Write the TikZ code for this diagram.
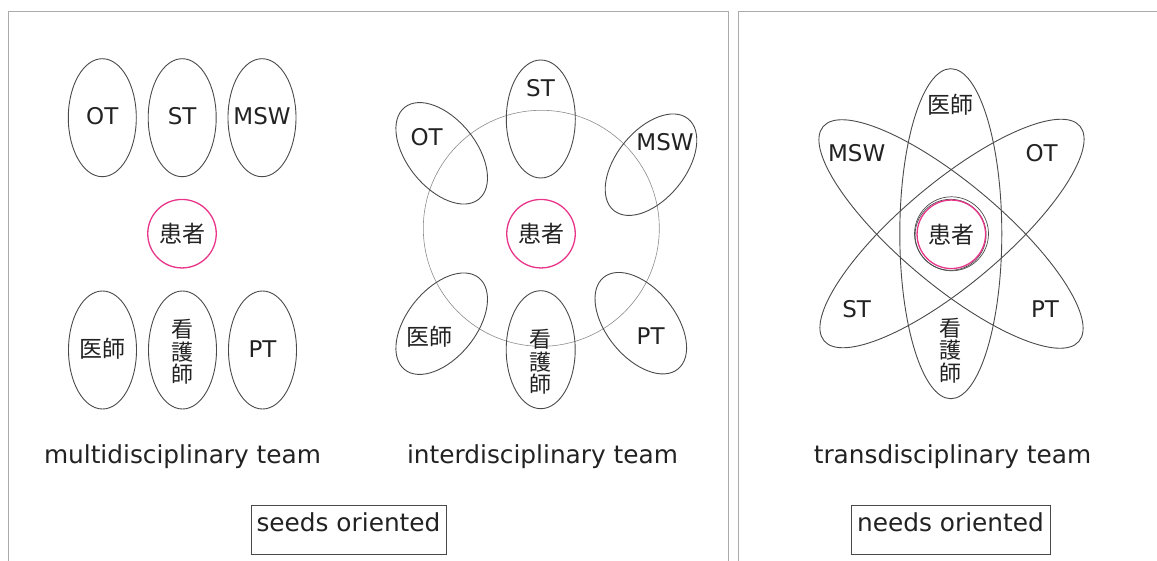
\documentclass[tikz,border=0pt]{standalone}
\usepackage{fontspec}
\setmainfont{DejaVu Sans}
\newfontfamily\jpfont{Noto Sans CJK JP}
\usetikzlibrary{shapes.geometric}
\definecolor{frame}{HTML}{ABABAB}
\definecolor{ring}{HTML}{4A4A4A}
\definecolor{pink}{HTML}{E8358A}
\definecolor{ink}{HTML}{222222}
\tikzset{
  oval/.style={ellipse, draw=ring, line width=0.9pt, inner sep=0pt},
  vov/.style={oval, minimum width=68pt, minimum height=118pt},
  tov/.style={oval, minimum width=69pt, minimum height=118pt},
  bigov/.style={oval, minimum width=102pt, minimum height=330pt},
  patient/.style={circle, draw=pink, line width=1.3pt, minimum size=68.5pt, inner sep=0pt, text=ink, font=\jpfont\fontsize{23}{23}\selectfont},
  lab/.style={text=ink, inner sep=0pt, font=\fontsize{23}{23}\selectfont},
  jlab/.style={text=ink, inner sep=0pt, font=\jpfont\fontsize{23}{23}\selectfont},
  vlab/.style={text=ink, inner sep=0pt, align=center, font=\jpfont\fontsize{22}{22.5}\selectfont},
  team/.style={text=ink, inner sep=0pt, font=\fontsize{24.8}{26}\selectfont},
  tagbox/.style={draw=ring, line width=0.9pt, minimum width=195.5pt, minimum height=49pt, inner sep=0pt},
  panel/.style={draw=frame, line width=1.5pt},
}
\begin{document}
\begin{tikzpicture}[x=1pt,y=-1pt]
\useasboundingbox (0,0) rectangle (1157,561);
% panels
\draw[panel] (8.5,575) -- (8.5,11.5) -- (728.5,11.5) -- (728.5,575);
\draw[panel] (738.7,575) -- (738.7,11.5) -- (1170,11.5);

% ---------- multidisciplinary ----------
\node[vov] (mOT) at (102.3,117.7) {};
\node[lab] (mOTl) at (102.3,116.5) {OT};
\node[vov] (mST) at (182.2,117.7) {};
\node[lab] (mSTl) at (182.2,116.5) {ST};
\node[vov] (mMSW) at (262,117.7) {};
\node[lab] (mMSWl) at (262,116.5) {MSW};
\node[patient] (mPat) at (182,233.7) {患者};
\node[vov] (mDr) at (102.5,350) {};
\node[jlab] (mDrl) at (102.5,349) {医師};
\node[vov] (mNs) at (182.5,350) {};
\node[vlab] (mNsl) at (182.5,352) {看\\護\\師};
\node[vov] (mPT) at (262.5,350) {};
\node[lab] (mPTl) at (262.5,349) {PT};
\node[team] (mTeam) at (182.5,457) {multidisciplinary team};

% ---------- interdisciplinary ----------
\node[circle, draw=black!45, line width=0.6pt, minimum size=236pt, inner sep=0pt] (iBig) at (541.3,228.3) {};
\node[tov] (iST) at (540.8,119) {};
\node[lab] (iSTl) at (540.5,88) {ST};
\node[tov, rotate=39] (iOT) at (441.7,153.3) {};
\node[lab] (iOTl) at (426.7,136.7) {OT};
\node[tov, rotate=-39] (iMSW) at (651,164.7) {};
\node[lab] (iMSWl) at (665,141.7) {MSW};
\node[tov, rotate=-39] (iDr) at (441.7,323.7) {};
\node[jlab] (iDrl) at (429.3,336.5) {医師};
\node[tov, rotate=39] (iPT) at (640.8,323.2) {};
\node[lab] (iPTl) at (650.7,336) {PT};
\node[tov] (iNs) at (540.7,349.7) {};
\node[vlab] (iNsl) at (540.7,362) {看\\護\\師};
\node[patient] (iPat) at (541,233.7) {患者};
\node[team] (iTeam) at (542.5,457) {interdisciplinary team};

\node[tagbox] (seedsBox) at (348.7,530) {};
\node[team] (seeds) at (348.5,522) {seeds oriented};

% ---------- transdisciplinary ----------
\node[bigov] (tV) at (950.8,233.7) {};
\node[bigov, minimum height=334pt, rotate=50] (tA) at (951,234) {};
\node[bigov, minimum height=334pt, rotate=-50] (tB) at (952,233.5) {};
\node[circle, draw=ring, line width=0.7pt, minimum size=74pt, inner sep=0pt] (tR1) at (951.5,233.8) {};
\node[circle, draw=ring, line width=0.7pt, minimum size=71pt, inner sep=0pt] (tR2) at (950.6,234.8) {};
\node[patient] (tPat) at (951.3,234.3) {患者};
\node[jlab] (tDrl) at (950.7,105) {医師};
\node[lab] (tMSWl) at (856.7,153.3) {MSW};
\node[lab] (tOTl) at (1041.7,153.3) {OT};
\node[lab] (tSTl) at (856.7,309.3) {ST};
\node[lab] (tPTl) at (1045,309.3) {PT};
\node[vlab] (tNsl) at (950.7,350.5) {看\\護\\師};
\node[team] (tTeam) at (952.5,457) {transdisciplinary team};

\node[tagbox, minimum width=199pt] (needsBox) at (950.5,530) {};
\node[team] (needs) at (950.5,522) {needs oriented};
\end{tikzpicture}
\end{document}
